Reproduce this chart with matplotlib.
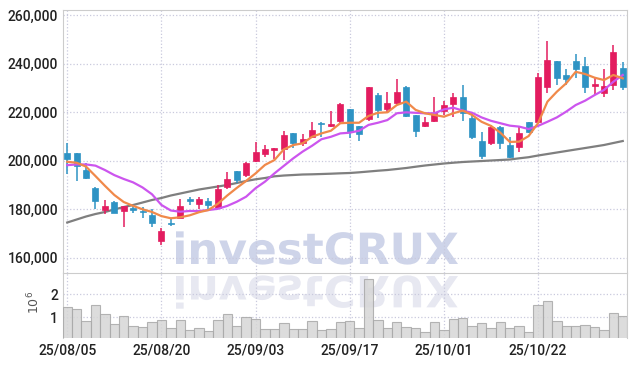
import matplotlib
matplotlib.use('Agg')
import matplotlib.pyplot as plt
import matplotlib.transforms as mtransforms
from matplotlib.textpath import TextPath
from matplotlib.patches import PathPatch
from matplotlib.font_manager import FontProperties
from matplotlib.ticker import FuncFormatter
import numpy as np

# daily candles, 25/08/05 .. 25/11/04
opens = [203100, 203100, 196200, 188800, 179700, 183000, 179200, 180500, 179400, 177500,
         167100, 174300, 176300, 184200, 182300, 183400, 180500, 189300, 195800, 194100,
         200000, 202700, 204400, 204700, 211500, 207200, 209900, 215500, 214500, 216400,
         221200, 214400, 217400, 227000, 221400, 223700, 230300, 218800, 214500, 216500,
         220700, 223400, 226200, 217500, 208300, 207200, 213800, 206400, 205600, 216100,
         216100, 230600, 241200, 235400, 241200, 239100, 231000, 228100, 231300, 238100]
highs = [207500, 203300, 199000, 189100, 183800, 183500, 181400, 181400, 181100, 180200,
         172400, 176300, 184100, 184900, 185200, 184700, 189900, 195500, 195800, 199600,
         207600, 206600, 205300, 212400, 211500, 211100, 216100, 216100, 220700, 224000,
         221300, 214500, 230300, 227800, 228500, 233600, 230800, 218900, 218200, 226400,
         224800, 227800, 231300, 219600, 211900, 214600, 214400, 209700, 214100, 216100,
         236100, 249500, 241200, 237700, 244000, 242700, 234000, 237900, 247900, 240900]
lows = [194500, 191800, 192600, 180000, 178100, 178300, 172600, 178300, 176400, 172800,
        165200, 173100, 176300, 181600, 180100, 179700, 180300, 188200, 191000, 193200,
        199600, 201700, 200600, 200300, 205200, 206100, 209300, 209900, 214100, 215700,
        209500, 208000, 216500, 217500, 219600, 223400, 218200, 209700, 214100, 216100,
        218900, 218200, 216500, 208900, 200600, 206500, 204700, 201000, 203800, 211600,
        215900, 227800, 231300, 231300, 234000, 227800, 227100, 226400, 229200, 229200]
closes = [200900, 197900, 193000, 183500, 181400, 178600, 181400, 179700, 179000, 174500,
          171100, 173900, 181400, 183300, 184200, 181900, 188200, 192400, 192100, 199200,
          203500, 204700, 205300, 210500, 207500, 209000, 212600, 215200, 215300, 223500,
          212000, 211200, 230300, 221000, 223700, 228300, 218600, 212400, 216000, 219600,
          222900, 226200, 219800, 209700, 202000, 213800, 207200, 201700, 211300, 212000,
          234400, 241600, 234300, 233900, 238000, 230600, 231700, 230800, 244700, 230300]
volumes = [1430000, 1340000, 830000, 1520000, 1140000, 710000, 1040000, 630000, 570000, 800000,
           880000, 540000, 870000, 450000, 530000, 410000, 870000, 1130000, 640000, 1030000,
           910000, 510000, 480000, 770000, 480000, 480000, 850000, 440000, 480000, 790000,
           830000, 530000, 2630000, 900000, 530000, 790000, 570000, 530000, 350000, 790000,
           440000, 910000, 960000, 610000, 740000, 530000, 790000, 530000, 610000, 380000,
           1520000, 1690000, 830000, 610000, 610000, 660000, 570000, 440000, 1170000, 1040000]

ma_short = [199600, 199200, 197600, 193700, 189700, 185900, 183000, 181400, 180000, 178900,
            177200, 176300, 176700, 177500, 178800, 179700, 182300, 185700, 188800, 191700,
            194800, 198300, 200300, 204700, 206500, 207200, 209900, 211300, 212400, 215500,
            215700, 215700, 218500, 219800, 220000, 223000, 224400, 221000, 219600, 218900,
            218200, 219600, 220700, 218900, 216100, 214400, 211600, 207800, 207900, 210200,
            215500, 224400, 228500, 232000, 236700, 235800, 234300, 233300, 235400, 234000]
ma_mid = [198200, 198500, 198500, 198000, 196200, 194100, 192500, 191100, 189000, 186200,
          181800, 179500, 179000, 179300, 179300, 179700, 180200, 181400, 183100, 185200,
          188700, 191400, 194800, 197900, 201000, 203800, 206200, 208900, 209900, 211300,
          211600, 212400, 214800, 215700, 216800, 219600, 220000, 219800, 219600, 219600,
          221200, 221900, 220700, 219800, 217900, 216500, 215500, 214500, 214100, 213100,
          214400, 216100, 217900, 220300, 223000, 224800, 227100, 229200, 232600, 235400]
ma_long = [174550, 175790, 177030, 178060, 178880, 179910, 180940, 181770, 182800, 183830,
           184650, 185690, 186510, 187340, 188160, 188780, 189400, 190020, 190840, 191670,
           192370, 192900, 193600, 193930, 194140, 194350, 194430, 194550, 194680, 194840,
           194970, 195250, 195580, 195910, 196200, 196610, 197030, 197560, 198060, 198470,
           198880, 199210, 199500, 199710, 199910, 200120, 200330, 200530, 201030, 201480,
           202180, 202800, 203420, 204040, 204660, 205270, 205890, 206510, 207340, 208160]

tick_pos = [0, 10, 20, 30, 40, 50]
tick_labels = ['25/08/05', '25/08/20', '25/09/03', '25/09/17', '25/10/01', '25/10/22']

UP = '#e31c5f'
DOWN = '#2e93c4'
GRID = '#c9c9dd'
SPINE = '#cccccc'
plt.rcParams['font.family'] = ['Roboto', 'DejaVu Sans']
plt.rcParams['font.weight'] = 'medium'

W, H = 637, 367
fig = plt.figure(figsize=(W / 100, H / 100), dpi=100)
fig.patch.set_facecolor('white')

ax = fig.add_axes([63 / W, 1 - 273.3 / H, 564 / W, 263.3 / H])
ax2 = fig.add_axes([63 / W, 1 - 338.3 / H, 564 / W, 65 / H], sharex=ax)
for a in (ax, ax2):
    a.set_facecolor('none')
    a.grid(True, color=GRID, linestyle=':', linewidth=0.9)
    a.set_axisbelow(True)
    a.spines['bottom'].set_visible(False)
    for s in ('left', 'right', 'top'):
        a.spines[s].set_color(SPINE)
    a.tick_params(length=0, labelsize=10, colors='#222222')

# watermark + its reflection in the volume panel
fp = FontProperties(family='DejaVu Sans', weight='bold')
tp = TextPath((0, 0), 'investCRUX', size=43, prop=fp)
x0 = 176 - tp.get_extents().x0
sx = 282 / tp.get_extents().width
wm = PathPatch(tp, facecolor='#ced4e9', edgecolor='none', zorder=-2,
               transform=mtransforms.Affine2D().scale(sx, 1).translate(176 - tp.get_extents().x0 * sx, H - 264))
wm2 = PathPatch(tp, facecolor='#e7e8f1', edgecolor='none', zorder=-2,
                transform=mtransforms.Affine2D().scale(sx, -1).translate(176 - tp.get_extents().x0 * sx, H - 276))
fig.add_artist(wm)
fig.add_artist(wm2)

idx = np.arange(len(closes))
o = np.array(opens)
c = np.array(closes)
colors = [UP if cc >= oo else DOWN for oo, cc in zip(o, c)]
ax.vlines(idx, lows, highs, colors=colors, linewidth=1.1, zorder=3)
ax.bar(idx, np.abs(c - o), bottom=np.minimum(o, c), width=0.64, color=colors,
       edgecolor=colors, linewidth=0.5, zorder=4)

ax.plot(idx, ma_long, color='#7f7f7f', linewidth=1.6, zorder=2)
ax.plot(idx, ma_mid, color='#cc55ee', linewidth=1.6, zorder=5)
ax.plot(idx, ma_short, color='#f0894a', linewidth=1.6, zorder=6)

ax.set_ylim(153600, 262200)
ax.set_yticks([160000, 180000, 200000, 220000, 240000, 260000])
ax.yaxis.set_major_formatter(FuncFormatter(lambda v, p: f'{v:,.0f}'))
ax.set_xlim(-0.45, 59.45)
ax.set_xticks(tick_pos)
ax.tick_params(labelbottom=False)

ax2.bar(idx, volumes, width=1.0, color='#d6d6d6', edgecolor='#a8a8a8',
        linewidth=0.8, alpha=0.85, zorder=3)
ax2.set_ylim(100000, 2890000)
ax2.set_yticks([1000000, 2000000])
ax2.set_yticklabels(['1', '2'])
ax2.set_xticks(tick_pos)
ax2.set_xticklabels(tick_labels)
ax2.tick_params(axis='x', pad=4)
fig.text(34 / W, 1 - 302 / H, '$10^6$', rotation=90, ha='center', va='center',
         fontsize=9, color='#555555')

fig.savefig('out.png', dpi=100)
